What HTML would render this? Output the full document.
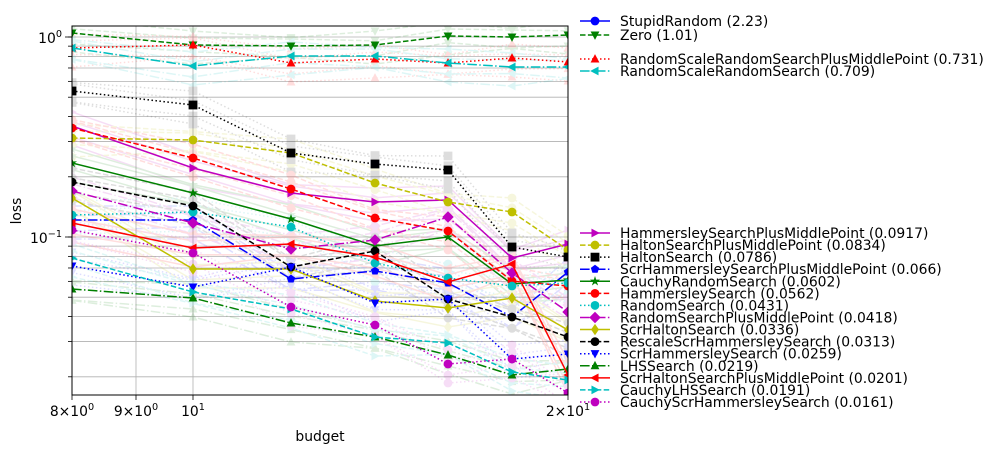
<!DOCTYPE html>
<html><head><meta charset="utf-8"><style>
body{margin:0;background:#fff}
svg{font-family:"DejaVu Sans","Liberation Sans",sans-serif}
</style></head><body>
<svg id="s" width="1000" height="453" xmlns="http://www.w3.org/2000/svg">
<g id="grid" stroke="#b0b0b0" stroke-width="0.8"></g>
<g id="faint" opacity="0.13"></g>
<g id="main"></g>
<rect x="72" y="26" width="496" height="369" fill="none" stroke="#000" stroke-width="1"/>
<g id="ticks" stroke="#000" stroke-width="0.8"></g>
<g font-size="13.9" fill="#000">
<text x="62" y="43" text-anchor="end">10<tspan dy="-6" font-size="9.7">0</tspan></text>
<text x="62" y="243" text-anchor="end">10<tspan dy="-6" font-size="9.7">−1</tspan></text>
<text x="72" y="416" text-anchor="middle">8×10<tspan dy="-6" font-size="9.7">0</tspan></text>
<text x="136" y="416" text-anchor="middle">9×10<tspan dy="-6" font-size="9.7">0</tspan></text>
<text x="193" y="416" text-anchor="middle">10<tspan dy="-6" font-size="9.7">1</tspan></text>
<text x="568" y="416" text-anchor="middle">2×10<tspan dy="-6" font-size="9.7">1</tspan></text>
<text x="320" y="441" text-anchor="middle">budget</text>
<text transform="translate(21,211) rotate(-90)" text-anchor="middle">loss</text>
</g>
<g id="leg" font-size="13.9"></g>
</svg>
<script>
const NS="http://www.w3.org/2000/svg";
function el(p,t,a){const e=document.createElementNS(NS,t);for(const k in a)e.setAttribute(k,a[k]);p.appendChild(e);return e;}
const X=[72,193,291,375,448,512,568];
const g=document.getElementById('grid'),tk=document.getElementById('ticks');
[136,193].forEach(x=>el(g,'line',{x1:x,x2:x,y1:26,y2:395}));
const ys=[37,237];for(let k=2;k<=9;k++){ys.push(237-200*Math.log10(k));ys.push(437-200*Math.log10(k));}
ys.forEach(y=>{if(y>26&&y<395){el(g,'line',{x1:72,x2:568,y1:y,y2:y});el(tk,'line',{x1:68,x2:72,y1:y,y2:y});}});
[37,237].forEach(y=>el(tk,'line',{x1:65,x2:72,y1:y,y2:y}));
[72,136,193,568].forEach(x=>el(tk,'line',{x1:x,x2:x,y1:395,y2:400}));
const D={'-':'', '--':'5.5,2.4', ':':'1.5,2.5', '-.':'9.6,2.4,1.5,2.4'};
const S=[
['StupidRandom (2.23)','#0000ff','-','o',null],
['Zero (1.01)','#008000','--','v',[33,45,46,45,36,37,35]],
['RandomScaleRandomSearchPlusMiddlePoint (0.731)','#ff0000',':','^',[48,45,63,59,63,58,62]],
['RandomScaleRandomSearch (0.709)','#00bfbf','-.','<',[48,66,56,56,63,67,67]],
['HammersleySearchPlusMiddlePoint (0.0917)','#bf00bf','-','>',[126,168,193,202,200,258,244]],
['HaltonSearchPlusMiddlePoint (0.0834)','#bfbf00','--','o',[138,140,153,183,202,212,250]],
['HaltonSearch (0.0786)','#000000',':','s',[91,105,153,164,170,247,257]],
['ScrHammersleySearchPlusMiddlePoint (0.066)','#0000ff','-.','p',[220,220,279,271,283,317,272]],
['CauchyRandomSearch (0.0602)','#008000','-','*',[163,193,219,246,237,284,280]],
['HammersleySearch (0.0562)','#ff0000','--','o',[128,158,189,218,231,281,286]],
['RandomSearch (0.0431)','#00bfbf',':','o',[215,212,227,263,278,286,283]],
['RandomSearchPlusMiddlePoint (0.0418)','#bf00bf','-.','D',[191,223,249,240,217,273,312]],
['ScrHaltonSearch (0.0336)','#bfbf00','-','d',[198,269,269,301,308,298,330]],
['RescaleScrHammersleySearch (0.0313)','#000000','--','o',[182,206,267,251,299,317,337]],
['ScrHammersleySearch (0.0259)','#0000ff',':','v',[266,287,267,303,299,359,354]],
['LHSSearch (0.0219)','#008000','-.','^',[289,298,323,337,355,375,369]],
['ScrHaltonSearchPlusMiddlePoint (0.0201)','#ff0000','-','<',[223,248,244,257,282,264,375]],
['CauchyLHSSearch (0.0191)','#00bfbf','--','>',[258,292,309,337,343,372,380]],
['CauchyScrHammersleySearch (0.0161)','#bf00bf',':','o',[230,253,307,325,364,359,393]]
];
function mk(p,m,x,y,c,r){r=r||4.4;
 if(m=='o')return el(p,'circle',{cx:x,cy:y,r:r,fill:c});
 if(m=='s')return el(p,'rect',{x:x-r,y:y-r,width:2*r,height:2*r,fill:c});
 let pts;
 if(m=='v')pts=[[-r,-r*.8],[r,-r*.8],[0,r*1.1]];
 else if(m=='^')pts=[[-r,r*.8],[r,r*.8],[0,-r*1.1]];
 else if(m=='<')pts=[[r*.8,-r],[r*.8,r],[-r*1.1,0]];
 else if(m=='>')pts=[[-r*.8,-r],[-r*.8,r],[r*1.1,0]];
 else if(m=='D')pts=[[0,-r*1.3],[r*1.3,0],[0,r*1.3],[-r*1.3,0]];
 else if(m=='d')pts=[[0,-r*1.3],[r*.9,0],[0,r*1.3],[-r*.9,0]];
 else if(m=='p'){pts=[];for(let i=0;i<5;i++){const a=-Math.PI/2+i*2*Math.PI/5;pts.push([r*Math.cos(a),r*Math.sin(a)]);}}
 else if(m=='*'){pts=[];for(let i=0;i<10;i++){const a=-Math.PI/2+i*Math.PI/5,rr=i%2?r*.45:r*1.2;pts.push([rr*Math.cos(a),rr*Math.sin(a)]);}}
 return el(p,'polygon',{points:pts.map(q=>(x+q[0])+','+(y+q[1])).join(' '),fill:c});
}
const F=document.getElementById('faint'),M=document.getElementById('main');
const clip=el(document.getElementById('s'),'clipPath',{id:'cp'});el(clip,'rect',{x:72,y:26,width:496,height:369});
F.setAttribute('clip-path','url(#cp)');M.setAttribute('clip-path','url(#cp)');
const offs=[-14,11,-7,19];
S.forEach((s,i)=>{if(!s[4])return;
 offs.forEach((o,j)=>{const yy=s[4].map((v,k)=>v+o*((k+j+i)%3==0?0.6:1));
  el(F,'polyline',{points:X.map((x,k)=>x+','+yy[k]).join(' '),fill:'none',stroke:s[1],'stroke-width':1.5,'stroke-dasharray':D[s[2]]});
  X.forEach((x,k)=>mk(F,s[3],x,yy[k],s[1]));});
});
S.forEach(s=>{if(!s[4])return;
 el(M,'polyline',{points:X.map((x,k)=>x+','+s[4][k]).join(' '),fill:'none',stroke:s[1],'stroke-width':1.5,'stroke-dasharray':D[s[2]]});
 X.forEach((x,k)=>mk(M,s[3],x,s[4][k],s[1]));});
const L=document.getElementById('leg');
const LY=[21,35,59,71];for(let i=0;i<15;i++)LY.push(233+i*12.07);
S.forEach((s,i)=>{const y=LY[i];
 el(L,'line',{x1:580,x2:610,y1:y,y2:y,stroke:s[1],'stroke-width':1.5,'stroke-dasharray':D[s[2]]});
 mk(L,s[3],595,y,s[1]);
 const t=el(L,'text',{x:620,y:y+5,fill:'#000'});t.textContent=s[0];});
</script>
</body></html>
